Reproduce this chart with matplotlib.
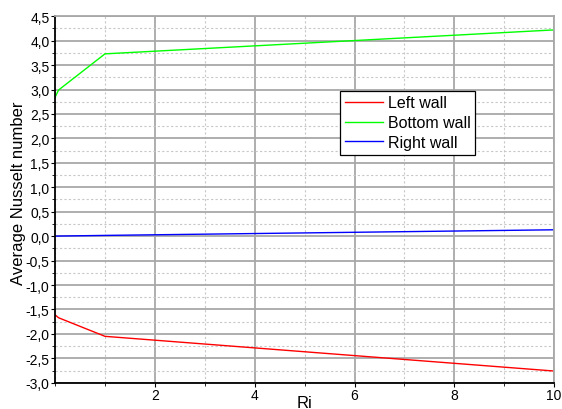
import numpy as np
import matplotlib.pyplot as plt
from matplotlib.ticker import MultipleLocator, FixedLocator, FuncFormatter

plt.rcParams['font.family'] = ['Liberation Sans', 'DejaVu Sans']

ri = [0.0, 0.07, 1.0, 10.0]
nu_left = [-1.61, -1.67, -2.05, -2.76]
nu_bottom = [2.84, 2.99, 3.73, 4.22]
nu_right = [0.00, 0.002, 0.015, 0.13]


def comma_fmt(v, pos):
    return f"{v:.1f}".replace('.', ',')


fig = plt.figure(figsize=(5.62, 4.10), dpi=100)
ax = fig.add_axes([0.098, 0.064, 0.888, 0.894])

ax.plot(ri, nu_left, color='#ff0000', lw=1.0, label='Left wall')
ax.plot(ri, nu_bottom, color='#00ff00', lw=1.0, label='Bottom wall')
ax.plot(ri, nu_right, color='#0000ff', lw=1.0, label='Right wall')

ax.set_xlim(0, 10)
ax.set_ylim(-3.0, 4.5)
ax.xaxis.set_major_locator(FixedLocator([2, 4, 6, 8, 10]))
ax.xaxis.set_minor_locator(MultipleLocator(1))
ax.yaxis.set_major_locator(MultipleLocator(0.5))
ax.yaxis.set_minor_locator(MultipleLocator(0.25))
ax.yaxis.set_major_formatter(FuncFormatter(comma_fmt))

ax.grid(which='major', color='#a8a8a8', lw=1.3)
ax.grid(which='minor', color='#c8c8c8', lw=0.8, ls=(0, (2, 2)))
ax.set_axisbelow(True)

ax.tick_params(which='major', direction='out', length=3, width=0.8, labelsize=10, pad=1)
ax.tick_params(which='minor', direction='out', length=2, width=0.6)
for s in ['top', 'right']:
    ax.spines[s].set_color('#a8a8a8')
    ax.spines[s].set_linewidth(1.3)
for s in ['left', 'bottom']:
    ax.spines[s].set_color('black')
    ax.spines[s].set_linewidth(1.3)

ax.set_xlabel('Ri', fontsize=12, labelpad=-5)
ax.set_ylabel('Average Nusselt number', fontsize=12)
ax.yaxis.set_label_coords(-0.058, 0.52)

leg = ax.legend(loc='upper left', bbox_to_anchor=(0.571, 0.797), fontsize=11.5,
                fancybox=False, framealpha=1, edgecolor='black',
                handlelength=2.4, handletextpad=0.3, borderpad=0.3,
                labelspacing=0.3, borderaxespad=0)
leg.get_frame().set_linewidth(0.9)

fig.savefig('out.png', dpi=100)
